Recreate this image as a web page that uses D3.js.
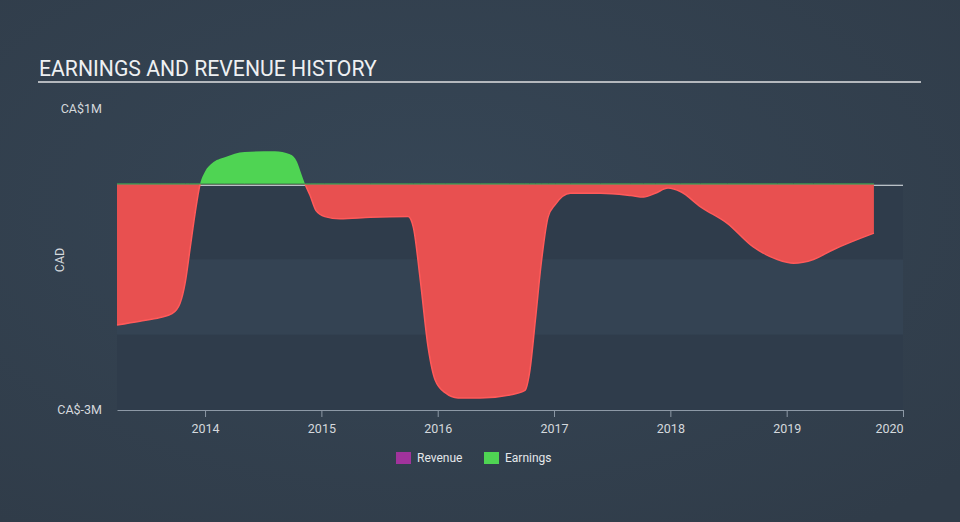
<!DOCTYPE html>
<html><head><meta charset="utf-8">
<script src="https://cdn.jsdelivr.net/npm/d3@7"></script>
<style>
html,body{margin:0;padding:0;background:#344353;}
svg{display:block;font-family:Roboto,"Open Sans",sans-serif;}
</style></head>
<body>
<svg id="chart" width="960" height="522"></svg>
<script>
// decimal-year dates and earnings (CA$ millions)
const dates = [2013.243,2013.44,2013.613,2013.716,2013.785,2013.83,2013.87,2013.914,2013.957,2014.0,2014.06,2014.17,2014.34,2014.60,2014.73,2014.79,2014.825,2014.86,2014.903,2014.954,2015.03,2015.16,2015.42,2015.745,2015.79,2015.85,2015.917,2015.978,2016.064,2016.175,2016.365,2016.62,2016.75,2016.79,2016.84,2016.89,2016.95,2017.01,2017.14,2017.40,2017.66,2017.77,2017.87,2017.98,2018.09,2018.26,2018.49,2018.71,2018.92,2019.06,2019.23,2019.40,2019.75];
const earnings = [-1.87,-1.82,-1.77,-1.72,-1.58,-1.30,-0.87,-0.39,0,0.17,0.28,0.36,0.43,0.44,0.40,0.30,0.15,0,-0.15,-0.35,-0.43,-0.46,-0.44,-0.43,-0.57,-1.27,-2.16,-2.6,-2.77,-2.84,-2.84,-2.8,-2.74,-2.5,-1.8,-1.05,-0.43,-0.27,-0.12,-0.12,-0.15,-0.17,-0.12,-0.05,-0.10,-0.3,-0.52,-0.83,-1.0,-1.05,-1.0,-0.87,-0.65];
const revenue = dates.map(() => 0);
const xTicks = [2014,2015,2016,2017,2018,2019,2020];
const yTicks = [1,-3];
const yTickLabels = ["CA$1M","CA$-3M"];
const legendItems = ["Revenue","Earnings"];
const legendColors = ["#a1339c","#4fd453"];

const svg = d3.select("#chart");
const W = 960, H = 522;

// background gradient
const defs = svg.append("defs");
const g0 = defs.append("radialGradient").attr("id","bg").attr("cx","45%").attr("cy","40%").attr("r","75%");
g0.append("stop").attr("offset","0%").attr("stop-color","#364656");
g0.append("stop").attr("offset","100%").attr("stop-color","#303c49");
svg.append("rect").attr("width",W).attr("height",H).attr("fill","url(#bg)");

const x = d3.scaleLinear().domain([2013.243,2020]).range([117,903]);
const y = d3.scaleLinear().domain([-3,1]).range([410,109]);

// title
svg.append("text").attr("x",39).attr("y",76).attr("fill","#eef0f2")
  .attr("font-size",21.2).text("EARNINGS AND REVENUE HISTORY");
svg.append("line").attr("x1",38).attr("x2",921).attr("y1",82).attr("y2",82)
  .attr("stroke","#b4b8bd").attr("stroke-width",2);

// bands
[[0,-1,"#2f3c4b"],[-1,-2,"#344353"],[-2,-3,"#2f3c4b"]].forEach(b=>{
  svg.append("rect").attr("x",117).attr("width",903-117)
    .attr("y",y(b[0])).attr("height",y(b[1])-y(b[0])).attr("fill",b[2]);
});

// zero line
svg.append("line").attr("x1",117).attr("x2",903).attr("y1",y(0)+1).attr("y2",y(0)+1)
  .attr("stroke","#e8ecef").attr("stroke-width",1.2);

const data = dates.map((d,i)=>({d, v:earnings[i]}));
const curve = d3.curveMonotoneX;

defs.append("clipPath").attr("id","neg").append("rect")
  .attr("x",0).attr("y",y(0)).attr("width",W).attr("height",H);
defs.append("clipPath").attr("id","pos").append("rect")
  .attr("x",0).attr("y",0).attr("width",W).attr("height",y(0));

const area = d3.area().x(d=>x(d.d)).y0(y(0)).y1(d=>y(d.v)).curve(curve);
const line = d3.line().x(d=>x(d.d)).y(d=>y(d.v)).curve(curve);

svg.append("path").datum(data).attr("d",area).attr("fill","#e85050").attr("clip-path","url(#neg)");
svg.append("path").datum(data).attr("d",line).attr("fill","none").attr("stroke","#ff5a5a").attr("stroke-width",1.5).attr("clip-path","url(#neg)");
svg.append("path").datum(data).attr("d",area).attr("fill","#4fd453").attr("clip-path","url(#pos)");

// revenue (zero) line along baseline
const rdata = dates.map((d,i)=>({d, v:revenue[i]}));
svg.append("path").datum(rdata).attr("d",d3.line().x(d=>x(d.d)).y(d=>y(d.v)-0.5))
  .attr("fill","none").attr("stroke","#3f9a4f").attr("stroke-width",1);

// x axis
const xAxis = d3.axisBottom(x).tickValues(xTicks).tickFormat(d3.format("d")).tickSize(7).tickSizeOuter(0);
const gx = svg.append("g").attr("transform","translate(0,410)").call(xAxis);
gx.select(".domain").attr("stroke","#8d99a6");
gx.selectAll(".tick line").attr("stroke","#8d99a6");
gx.selectAll(".tick text").attr("fill","#d5d9dd").attr("font-size",12.5).attr("dy","1.05em")
  .attr("font-family","Roboto,sans-serif");
gx.selectAll(".tick").filter(d=>d===2020).select("text").attr("text-anchor","end").attr("dx","0");

// y labels
yTicks.forEach((t,i)=>{
  svg.append("text").attr("x",102).attr("y",y(t)).attr("dy","0.35em").attr("text-anchor","end")
    .attr("fill","#d5d9dd").attr("font-size",12.5).text(yTickLabels[i]);
});
svg.append("text").attr("transform","translate(64,260) rotate(-90)").attr("text-anchor","middle")
  .attr("fill","#d5d9dd").attr("font-size",12.5).text("CAD");

// legend
const lg = svg.append("g");
const lx = [396,484];
legendItems.forEach((n,i)=>{
  lg.append("rect").attr("x",lx[i]).attr("y",452).attr("width",15).attr("height",12).attr("fill",legendColors[i]);
  lg.append("text").attr("x",lx[i]+21).attr("y",458).attr("dy","0.35em").attr("fill","#e4e7ea")
    .attr("font-size",12).text(n);
});
</script>
</body></html>
